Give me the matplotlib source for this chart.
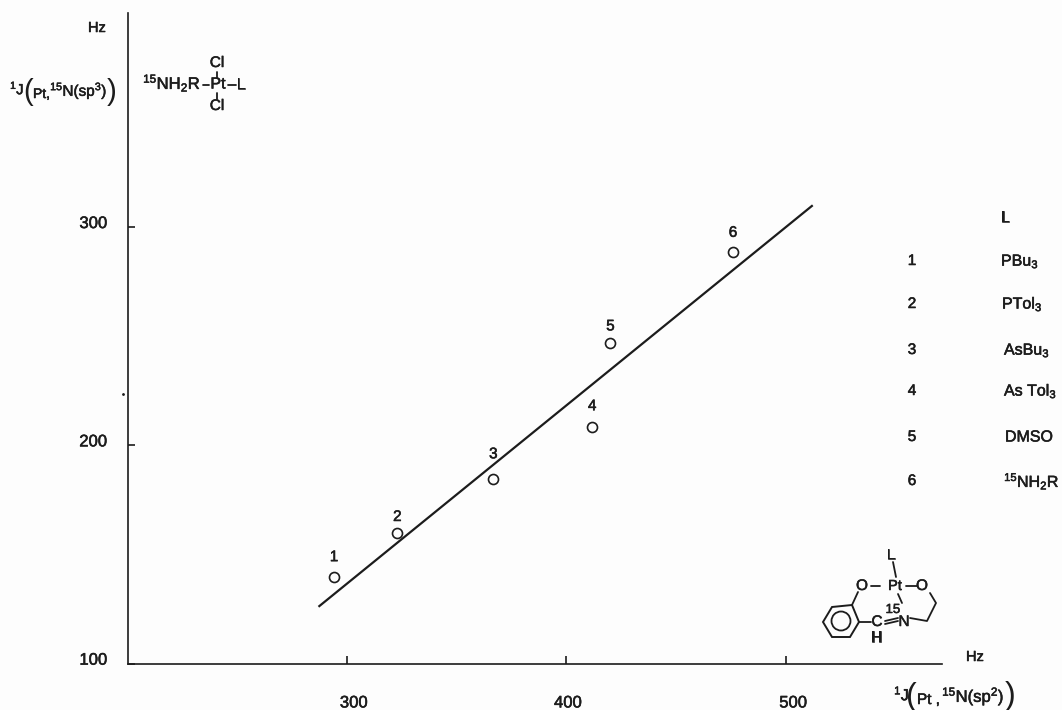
# -*- coding: utf-8 -*-
"""
1J(Pt,15N) sp3 vs sp2 correlation
"""

import numpy as np
import matplotlib.pyplot as plt
import matplotlib.patheffects as pe
from matplotlib.patches import Circle, Polygon
from matplotlib.transforms import Affine2D, ScaledTranslation

plt.rcParams['font.family'] = 'Liberation Sans'
plt.rcParams['mathtext.fontset'] = 'custom'
plt.rcParams['mathtext.rm'] = 'Liberation Sans'
plt.rcParams['mathtext.it'] = 'Liberation Sans'
plt.rcParams['mathtext.bf'] = 'Liberation Sans:bold'

#------------------------------------------------------------------------------
# data
compound = ['1', '2', '3', '4', '5', '6']
J_sp2 = [294.2, 323.0, 366.7, 411.7, 420.0, 475.8]
J_sp3 = [139.5, 159.8, 184.4, 208.3, 246.8, 288.4]

fit_sp2 = [287.5, 511.7]
fit_sp3 = [126.3, 309.6]

x_ticks = [300, 400, 500]
y_ticks = [100, 200, 300]

ligands = [r'PBu$_{3}$', r'PTol$_{3}$', r'AsBu$_{3}$', r'As Tol$_{3}$', 'DMSO', r'$^{15}$NH$_{2}$R']

#------------------------------------------------------------------------------
W, H = 1062, 710
ink = '#1c1c1c'
fs = 12
heavy = [pe.withStroke(linewidth=0.4, foreground=ink)]

fig = plt.figure(figsize=(W/100, H/100), dpi=100, facecolor='#fdfdfd')
ax = fig.add_axes([128/W, 1-663.5/H, (941.7-128)/W, (663.5-13)/H])
ax.patch.set_alpha(0)

# pixel coordinates, origin top left (for the drawn structures and loose text)
px = Affine2D().scale(1, -1).translate(0, H)

def put(x, y, s, size=fs, ha='center', va='center', stroke=True):
    fig.text(x, y, s, transform=px, fontsize=size, ha=ha, va=va, color=ink,
             path_effects=heavy if stroke else None)

def bond(xs, ys, lw=1.3):
    ax.plot(xs, ys, color=ink, lw=lw, transform=px, clip_on=False, solid_capstyle='round')

ax.plot(fit_sp2, fit_sp3, color=ink, lw=1.6)
ax.plot(J_sp2, J_sp3, linestyle='', marker='o', markersize=7.2, markerfacecolor='none',
        markeredgecolor=ink, markeredgewidth=1.2)

label_dy = [14.5, 11.5, 18, 15, 12, 14]
for c, xv, yv, dy in zip(compound, J_sp2, J_sp3, label_dy):
    ax.annotate(c, (xv, yv), xytext=(0, dy), textcoords='offset points', ha='center', va='center',
                fontsize=fs-1, color=ink, path_effects=heavy)

ax.set_xlim(200.4, 570.8)
ax.set_ylim(100, 398)
ax.spines['top'].set_visible(False)
ax.spines['right'].set_visible(False)
ax.spines['left'].set_linewidth(1.2)
ax.spines['bottom'].set_linewidth(1.2)
ax.spines['left'].set_color(ink)
ax.spines['bottom'].set_color(ink)

ax.set_xticks(x_ticks)
ax.set_yticks(y_ticks)
ax.tick_params(axis='x', direction='in', length=6, width=1.2, pad=23, labelsize=fs, color=ink, labelcolor=ink)
ax.tick_params(axis='y', direction='in', length=5, width=1.2, pad=15, labelsize=fs, color=ink, labelcolor=ink)

# tick labels sit a little off the ticks in the original
for lab, dx in zip(ax.get_xticklabels(), [5, 1, 5]):
    lab.set_transform(lab.get_transform() + ScaledTranslation(dx/72, 0, fig.dpi_scale_trans))
    lab.set_path_effects(heavy)
for lab in ax.get_yticklabels():
    lab.set_transform(lab.get_transform() + ScaledTranslation(0, 3.5/72, fig.dpi_scale_trans))
    lab.set_path_effects(heavy)

#------------------------------------------------------------------------------
# axis captions
put(97, 28, 'Hz', fs-1.5)
put(10, 88, r'$^{1}$J', fs-1.5, ha='left')
put(28, 92, '(', 21, stroke=False)
put(33, 94, r'Pt,', fs-2, ha='left')
put(50, 91, r'$^{15}$N(sp$^{3}$)', fs-1, ha='left')
put(112, 92, ')', 21, stroke=False)

put(975, 657, 'Hz', fs-1.5)
put(894, 694, r'$^{1}$J', fs-0.5, ha='left')
put(911, 697, '(', 23, stroke=False)
put(917, 700, r'Pt ,', fs-1, ha='left')
put(942, 696, r'$^{15}$N(sp$^{2}$)', fs, ha='left')
put(1010, 696, ')', 23, stroke=False)

# speck on the scan
ax.plot([123], [394], marker='.', markersize=2, color=ink, transform=px, clip_on=False)

#------------------------------------------------------------------------------
# ligand table
put(1001, 218, 'L', fs-1, ha='left')
rows_y = [261, 304, 350, 391, 437, 481]
names_x = [1001, 1002, 1004, 1004, 1005, 1004]
for c, name, y, x in zip(compound, ligands, rows_y, names_x):
    put(912, y, c, fs-1)
    put(x, y, name, fs-0.5, ha='left')

#------------------------------------------------------------------------------
# structure top left
put(143, 83, r'$^{15}$NH$_{2}$R', fs, ha='left')
put(218, 84, 'Pt', fs-0.5)
put(241, 85, 'L', fs-1)
put(217, 63, 'Cl', fs-1)
put(217, 106, 'Cl', fs-1)
bond([203, 209], [85, 85])
bond([228, 236], [85, 85])
bond([217, 217], [72, 78])
bond([217, 217], [93, 99])

#------------------------------------------------------------------------------
# structure bottom right
hexagon = Polygon([(832, 607), (852, 605), (859, 622), (850, 637), (832, 637), (823, 622)],
                  closed=True, fill=False, edgecolor=ink, lw=1.4, transform=px)
ax.add_patch(hexagon)
hexagon.set_clip_on(False)
ring = Circle((841, 621), 9.5, fill=False, edgecolor=ink, lw=1.3, transform=px)
ax.add_patch(ring)
ring.set_clip_on(False)

put(862, 586, 'O', fs-1)
put(895, 586, 'Pt', fs-1.5)
put(922, 586, 'O', fs-1)
put(877, 622, 'C', fs-1)
put(904, 622, 'N', fs-1)
put(876.5, 638, 'H', fs-1)
put(891, 555, 'L', fs-1.5)
put(893, 610, '15', fs-2.5)
bond([893, 896], [562, 577])
bond([898, 902], [594, 603])
bond([871, 880], [586, 586])
bond([906, 917], [586, 586])
bond([852, 858], [605, 592])
bond([859, 871], [622, 622])
bond([885, 898], [624, 621])
bond([885, 898], [621, 618])
bond([930, 936, 927, 910], [593, 603, 621, 618])

plt.savefig('out.png', dpi=100, facecolor=fig.get_facecolor())
